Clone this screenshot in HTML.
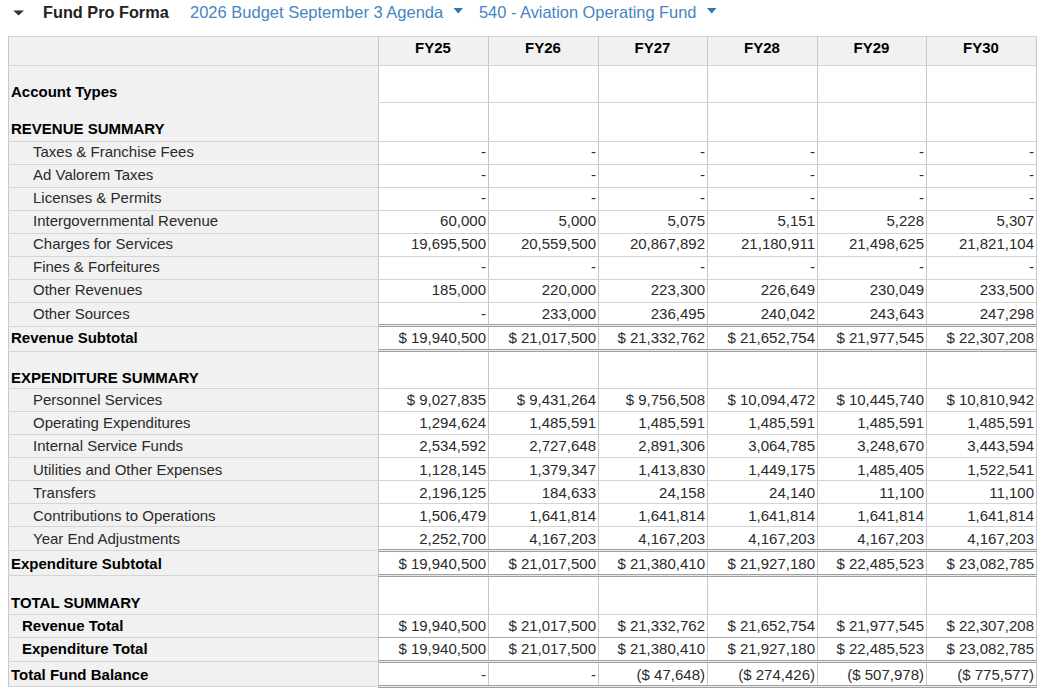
<!DOCTYPE html>
<html><head><meta charset="utf-8"><style>
html,body{margin:0;padding:0;background:#fff;width:1042px;height:693px;overflow:hidden;}
body{position:relative;font-family:"Liberation Sans",sans-serif;}
body>div{position:absolute;}
.t{white-space:pre;line-height:17px;font-size:15px;}
.n{color:#2a2a2a;}
.b{color:#000;font-weight:bold;}
.hd{color:#000;font-weight:bold;text-align:center;}
.ttl{font-size:16.5px;line-height:19px;font-weight:bold;color:#222;}
.lnk{font-size:16.5px;line-height:19px;color:#4585c2;}
</style></head><body>

<svg style="left:0;top:0;position:absolute" width="1042" height="30"><polygon points="13.2,10.4 24.0,10.4 18.6,15.600000000000001" fill="#333"/></svg>
<div class="t ttl" style="left:43px;top:3px;font-size:16.3px">Fund Pro Forma</div>
<div class="t lnk" style="left:190px;top:3px">2026 Budget September 3 Agenda</div>
<svg style="left:0;top:0;position:absolute" width="1042" height="30"><polygon points="453.5,8 463.0,8 458.25,13.5" fill="#3076b8"/></svg>
<div class="t lnk" style="left:479px;top:3px;font-size:16.4px">540 - Aviation Operating Fund</div>
<svg style="left:0;top:0;position:absolute" width="1042" height="30"><polygon points="707,8 716.5,8 711.75,13.5" fill="#3076b8"/></svg>

<div style="left:8px;top:36px;width:370px;height:650px;background:#f1f1f1"></div><div style="left:378px;top:36px;width:658px;height:29px;background:#f1f1f1"></div><div style="left:8px;top:36px;width:1029px;height:1px;background:#d4d4d4"></div><div style="left:8px;top:36px;width:1px;height:650px;background:#c8c8c8"></div><div style="left:378px;top:36px;width:1px;height:650px;background:#c8c8c8"></div><div style="left:488px;top:36px;width:1px;height:652px;background:#c8c8c8"></div><div style="left:598px;top:36px;width:1px;height:652px;background:#c8c8c8"></div><div style="left:707px;top:36px;width:1px;height:652px;background:#c8c8c8"></div><div style="left:817px;top:36px;width:1px;height:652px;background:#c8c8c8"></div><div style="left:926px;top:36px;width:1px;height:652px;background:#c8c8c8"></div><div style="left:1036px;top:36px;width:1px;height:652px;background:#c8c8c8"></div><div style="left:8px;top:65px;width:1028px;height:1px;background:#d4d4d4"></div><div style="left:378px;top:102px;width:659px;height:1px;background:#d4d4d4"></div><div style="left:8px;top:141px;width:1028px;height:1px;background:#d4d4d4"></div><div style="left:8px;top:164px;width:1028px;height:1px;background:#d4d4d4"></div><div style="left:8px;top:187px;width:1028px;height:1px;background:#d4d4d4"></div><div style="left:8px;top:210px;width:1028px;height:1px;background:#d4d4d4"></div><div style="left:8px;top:233px;width:1028px;height:1px;background:#d4d4d4"></div><div style="left:8px;top:256px;width:1028px;height:1px;background:#d4d4d4"></div><div style="left:8px;top:279px;width:1028px;height:1px;background:#d4d4d4"></div><div style="left:8px;top:302px;width:1028px;height:1px;background:#d4d4d4"></div><div style="left:8px;top:326px;width:370px;height:1px;background:#d4d4d4"></div><div style="left:378px;top:324px;width:659px;height:1px;background:#a0a0a0"></div><div style="left:378px;top:325px;width:659px;height:1px;background:#e8e8e8"></div><div style="left:378px;top:326px;width:659px;height:1px;background:#a0a0a0"></div><div style="left:8px;top:351px;width:370px;height:1px;background:#d4d4d4"></div><div style="left:378px;top:349px;width:659px;height:1px;background:#a0a0a0"></div><div style="left:378px;top:350px;width:659px;height:1px;background:#e8e8e8"></div><div style="left:378px;top:351px;width:659px;height:1px;background:#a0a0a0"></div><div style="left:8px;top:388px;width:1028px;height:1px;background:#d4d4d4"></div><div style="left:8px;top:411px;width:1028px;height:1px;background:#d4d4d4"></div><div style="left:8px;top:434px;width:1028px;height:1px;background:#d4d4d4"></div><div style="left:8px;top:457px;width:1028px;height:1px;background:#d4d4d4"></div><div style="left:8px;top:480px;width:1028px;height:1px;background:#d4d4d4"></div><div style="left:8px;top:503px;width:1028px;height:1px;background:#d4d4d4"></div><div style="left:8px;top:526px;width:1028px;height:1px;background:#d4d4d4"></div><div style="left:8px;top:550px;width:370px;height:1px;background:#d4d4d4"></div><div style="left:378px;top:549px;width:659px;height:1px;background:#a0a0a0"></div><div style="left:378px;top:550px;width:659px;height:1px;background:#e8e8e8"></div><div style="left:378px;top:551px;width:659px;height:1px;background:#a0a0a0"></div><div style="left:8px;top:575px;width:370px;height:1px;background:#d4d4d4"></div><div style="left:378px;top:574px;width:659px;height:1px;background:#a0a0a0"></div><div style="left:378px;top:575px;width:659px;height:1px;background:#e8e8e8"></div><div style="left:378px;top:576px;width:659px;height:1px;background:#a0a0a0"></div><div style="left:8px;top:614px;width:1028px;height:1px;background:#d4d4d4"></div><div style="left:8px;top:637px;width:370px;height:1px;background:#d4d4d4"></div><div style="left:378px;top:637px;width:659px;height:1px;background:#a8a8a8"></div><div style="left:8px;top:661px;width:370px;height:1px;background:#d4d4d4"></div><div style="left:378px;top:660px;width:659px;height:1px;background:#a0a0a0"></div><div style="left:378px;top:661px;width:659px;height:1px;background:#e8e8e8"></div><div style="left:378px;top:662px;width:659px;height:1px;background:#a0a0a0"></div><div style="left:8px;top:686px;width:370px;height:1px;background:#d4d4d4"></div><div style="left:378px;top:685px;width:659px;height:1px;background:#a0a0a0"></div><div style="left:378px;top:686px;width:659px;height:1px;background:#e8e8e8"></div><div style="left:378px;top:687px;width:659px;height:1px;background:#a0a0a0"></div><div class="t hd" style="left:378px;width:110px;top:39px">FY25</div><div class="t hd" style="left:488px;width:110px;top:39px">FY26</div><div class="t hd" style="left:598px;width:109px;top:39px">FY27</div><div class="t hd" style="left:707px;width:110px;top:39px">FY28</div><div class="t hd" style="left:817px;width:109px;top:39px">FY29</div><div class="t hd" style="left:926px;width:110px;top:39px">FY30</div><div class="t b" style="left:11px;top:83px">Account Types</div><div class="t b" style="left:11px;top:120px">REVENUE SUMMARY</div><div class="t n" style="left:33px;top:143px">Taxes & Franchise Fees</div><div class="t n r" style="right:556px;top:143px">-</div><div class="t n r" style="right:446px;top:143px">-</div><div class="t n r" style="right:337px;top:143px">-</div><div class="t n r" style="right:227px;top:143px">-</div><div class="t n r" style="right:118px;top:143px">-</div><div class="t n r" style="right:8px;top:143px">-</div><div class="t n" style="left:33px;top:166px">Ad Valorem Taxes</div><div class="t n r" style="right:556px;top:166px">-</div><div class="t n r" style="right:446px;top:166px">-</div><div class="t n r" style="right:337px;top:166px">-</div><div class="t n r" style="right:227px;top:166px">-</div><div class="t n r" style="right:118px;top:166px">-</div><div class="t n r" style="right:8px;top:166px">-</div><div class="t n" style="left:33px;top:189px">Licenses & Permits</div><div class="t n r" style="right:556px;top:189px">-</div><div class="t n r" style="right:446px;top:189px">-</div><div class="t n r" style="right:337px;top:189px">-</div><div class="t n r" style="right:227px;top:189px">-</div><div class="t n r" style="right:118px;top:189px">-</div><div class="t n r" style="right:8px;top:189px">-</div><div class="t n" style="left:33px;top:212px">Intergovernmental Revenue</div><div class="t n r" style="right:556px;top:212px">60,000</div><div class="t n r" style="right:446px;top:212px">5,000</div><div class="t n r" style="right:337px;top:212px">5,075</div><div class="t n r" style="right:227px;top:212px">5,151</div><div class="t n r" style="right:118px;top:212px">5,228</div><div class="t n r" style="right:8px;top:212px">5,307</div><div class="t n" style="left:33px;top:235px">Charges for Services</div><div class="t n r" style="right:556px;top:235px">19,695,500</div><div class="t n r" style="right:446px;top:235px">20,559,500</div><div class="t n r" style="right:337px;top:235px">20,867,892</div><div class="t n r" style="right:227px;top:235px">21,180,911</div><div class="t n r" style="right:118px;top:235px">21,498,625</div><div class="t n r" style="right:8px;top:235px">21,821,104</div><div class="t n" style="left:33px;top:258px">Fines & Forfeitures</div><div class="t n r" style="right:556px;top:258px">-</div><div class="t n r" style="right:446px;top:258px">-</div><div class="t n r" style="right:337px;top:258px">-</div><div class="t n r" style="right:227px;top:258px">-</div><div class="t n r" style="right:118px;top:258px">-</div><div class="t n r" style="right:8px;top:258px">-</div><div class="t n" style="left:33px;top:281px">Other Revenues</div><div class="t n r" style="right:556px;top:281px">185,000</div><div class="t n r" style="right:446px;top:281px">220,000</div><div class="t n r" style="right:337px;top:281px">223,300</div><div class="t n r" style="right:227px;top:281px">226,649</div><div class="t n r" style="right:118px;top:281px">230,049</div><div class="t n r" style="right:8px;top:281px">233,500</div><div class="t n" style="left:33px;top:305px">Other Sources</div><div class="t n r" style="right:556px;top:305px">-</div><div class="t n r" style="right:446px;top:305px">233,000</div><div class="t n r" style="right:337px;top:305px">236,495</div><div class="t n r" style="right:227px;top:305px">240,042</div><div class="t n r" style="right:118px;top:305px">243,643</div><div class="t n r" style="right:8px;top:305px">247,298</div><div class="t b" style="left:11px;top:329px">Revenue Subtotal</div><div class="t n r" style="right:556px;top:329px">$ 19,940,500</div><div class="t n r" style="right:446px;top:329px">$ 21,017,500</div><div class="t n r" style="right:337px;top:329px">$ 21,332,762</div><div class="t n r" style="right:227px;top:329px">$ 21,652,754</div><div class="t n r" style="right:118px;top:329px">$ 21,977,545</div><div class="t n r" style="right:8px;top:329px">$ 22,307,208</div><div class="t b" style="left:11px;top:369px">EXPENDITURE SUMMARY</div><div class="t n" style="left:33px;top:391px">Personnel Services</div><div class="t n r" style="right:556px;top:391px">$ 9,027,835</div><div class="t n r" style="right:446px;top:391px">$ 9,431,264</div><div class="t n r" style="right:337px;top:391px">$ 9,756,508</div><div class="t n r" style="right:227px;top:391px">$ 10,094,472</div><div class="t n r" style="right:118px;top:391px">$ 10,445,740</div><div class="t n r" style="right:8px;top:391px">$ 10,810,942</div><div class="t n" style="left:33px;top:414px">Operating Expenditures</div><div class="t n r" style="right:556px;top:414px">1,294,624</div><div class="t n r" style="right:446px;top:414px">1,485,591</div><div class="t n r" style="right:337px;top:414px">1,485,591</div><div class="t n r" style="right:227px;top:414px">1,485,591</div><div class="t n r" style="right:118px;top:414px">1,485,591</div><div class="t n r" style="right:8px;top:414px">1,485,591</div><div class="t n" style="left:33px;top:437px">Internal Service Funds</div><div class="t n r" style="right:556px;top:437px">2,534,592</div><div class="t n r" style="right:446px;top:437px">2,727,648</div><div class="t n r" style="right:337px;top:437px">2,891,306</div><div class="t n r" style="right:227px;top:437px">3,064,785</div><div class="t n r" style="right:118px;top:437px">3,248,670</div><div class="t n r" style="right:8px;top:437px">3,443,594</div><div class="t n" style="left:33px;top:461px">Utilities and Other Expenses</div><div class="t n r" style="right:556px;top:461px">1,128,145</div><div class="t n r" style="right:446px;top:461px">1,379,347</div><div class="t n r" style="right:337px;top:461px">1,413,830</div><div class="t n r" style="right:227px;top:461px">1,449,175</div><div class="t n r" style="right:118px;top:461px">1,485,405</div><div class="t n r" style="right:8px;top:461px">1,522,541</div><div class="t n" style="left:33px;top:484px">Transfers</div><div class="t n r" style="right:556px;top:484px">2,196,125</div><div class="t n r" style="right:446px;top:484px">184,633</div><div class="t n r" style="right:337px;top:484px">24,158</div><div class="t n r" style="right:227px;top:484px">24,140</div><div class="t n r" style="right:118px;top:484px">11,100</div><div class="t n r" style="right:8px;top:484px">11,100</div><div class="t n" style="left:33px;top:507px">Contributions to Operations</div><div class="t n r" style="right:556px;top:507px">1,506,479</div><div class="t n r" style="right:446px;top:507px">1,641,814</div><div class="t n r" style="right:337px;top:507px">1,641,814</div><div class="t n r" style="right:227px;top:507px">1,641,814</div><div class="t n r" style="right:118px;top:507px">1,641,814</div><div class="t n r" style="right:8px;top:507px">1,641,814</div><div class="t n" style="left:33px;top:530px">Year End Adjustments</div><div class="t n r" style="right:556px;top:530px">2,252,700</div><div class="t n r" style="right:446px;top:530px">4,167,203</div><div class="t n r" style="right:337px;top:530px">4,167,203</div><div class="t n r" style="right:227px;top:530px">4,167,203</div><div class="t n r" style="right:118px;top:530px">4,167,203</div><div class="t n r" style="right:8px;top:530px">4,167,203</div><div class="t b" style="left:11px;top:555px">Expenditure Subtotal</div><div class="t n r" style="right:556px;top:555px">$ 19,940,500</div><div class="t n r" style="right:446px;top:555px">$ 21,017,500</div><div class="t n r" style="right:337px;top:555px">$ 21,380,410</div><div class="t n r" style="right:227px;top:555px">$ 21,927,180</div><div class="t n r" style="right:118px;top:555px">$ 22,485,523</div><div class="t n r" style="right:8px;top:555px">$ 23,082,785</div><div class="t b" style="left:11px;top:594px">TOTAL SUMMARY</div><div class="t b" style="left:22px;top:617px">Revenue Total</div><div class="t n r" style="right:556px;top:617px">$ 19,940,500</div><div class="t n r" style="right:446px;top:617px">$ 21,017,500</div><div class="t n r" style="right:337px;top:617px">$ 21,332,762</div><div class="t n r" style="right:227px;top:617px">$ 21,652,754</div><div class="t n r" style="right:118px;top:617px">$ 21,977,545</div><div class="t n r" style="right:8px;top:617px">$ 22,307,208</div><div class="t b" style="left:22px;top:640px">Expenditure Total</div><div class="t n r" style="right:556px;top:640px">$ 19,940,500</div><div class="t n r" style="right:446px;top:640px">$ 21,017,500</div><div class="t n r" style="right:337px;top:640px">$ 21,380,410</div><div class="t n r" style="right:227px;top:640px">$ 21,927,180</div><div class="t n r" style="right:118px;top:640px">$ 22,485,523</div><div class="t n r" style="right:8px;top:640px">$ 23,082,785</div><div class="t b" style="left:11px;top:666px">Total Fund Balance</div><div class="t n r" style="right:556px;top:666px">-</div><div class="t n r" style="right:446px;top:666px">-</div><div class="t n r" style="right:337px;top:666px">($ 47,648)</div><div class="t n r" style="right:227px;top:666px">($ 274,426)</div><div class="t n r" style="right:118px;top:666px">($ 507,978)</div><div class="t n r" style="right:8px;top:666px">($ 775,577)</div>
</body></html>
